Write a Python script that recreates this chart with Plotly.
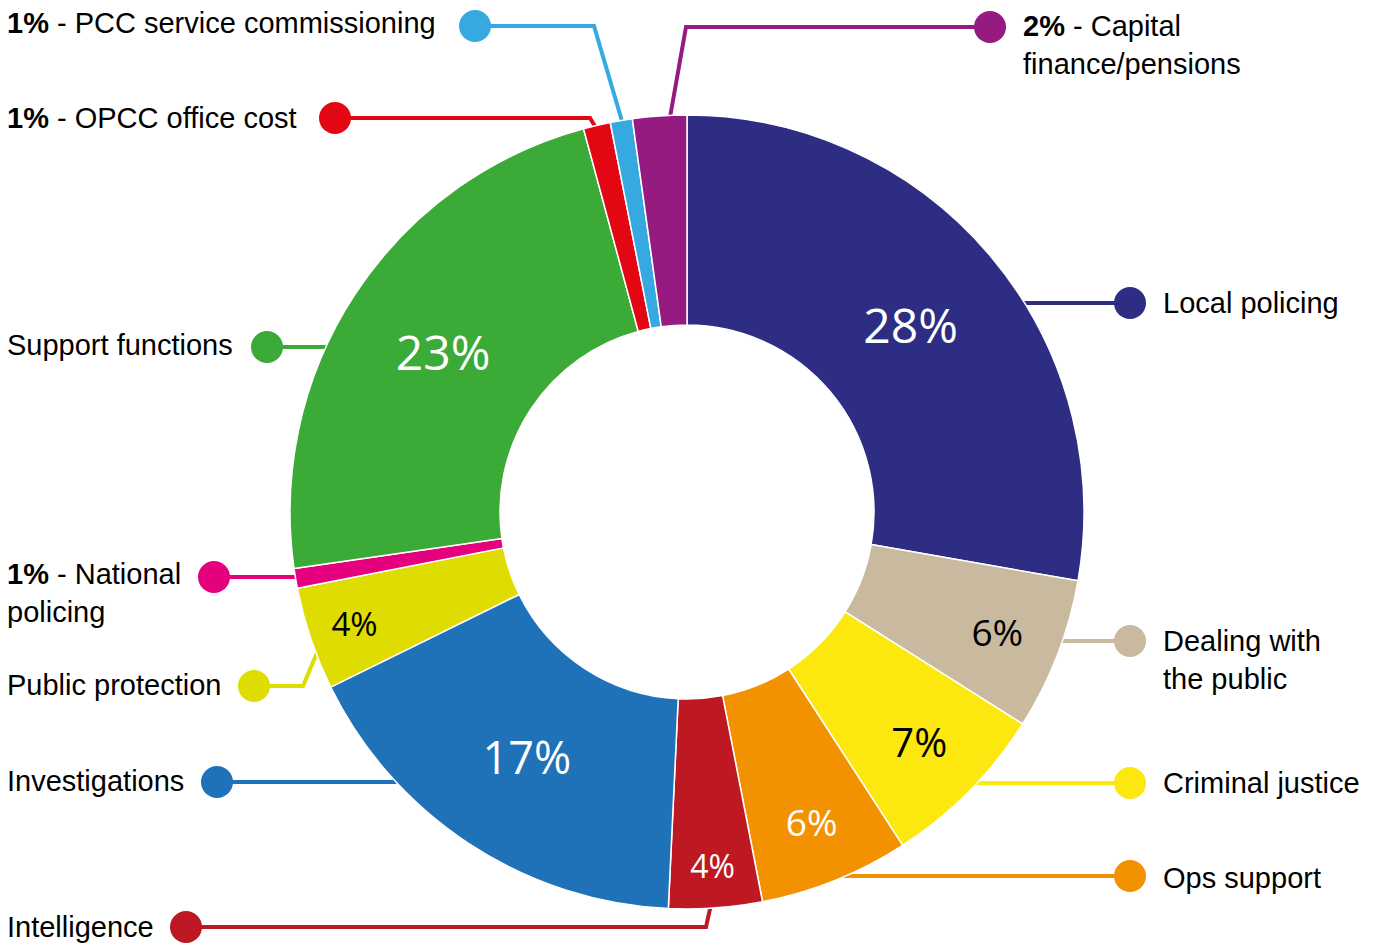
import math
import plotly.graph_objects as go

W, H = 1376, 946

# ---------------- data ----------------
categories = ["Local policing", "Dealing with the public", "Criminal justice", "Ops support",
              "Intelligence", "Investigations", "Public protection", "National policing",
              "Support functions", "OPCC office cost", "PCC service commissioning",
              "Capital finance/pensions"]
values = [27.8, 6.2, 6.9, 6.1, 3.8, 17.0, 4.2, 0.8, 23.1, 1.1, 0.9, 2.2]
slice_text = ["28%", "6%", "7%", "6%", "4%", "17%", "4%", "", "23%", "", "", ""]
callout_text = ["Local policing", "Dealing with<br>the public", "Criminal justice", "Ops support",
                "Intelligence", "Investigations", "Public protection",
                "<b>1%</b> - National<br>policing", "Support functions",
                "<b>1%</b> - OPCC office cost", "<b>1%</b> - PCC service commissioning",
                "<b>2%</b> - Capital<br>finance/pensions"]

# ---------------- styles ----------------
colors = ["#2D2E83", "#C9B99E", "#FCE80F", "#F39200", "#BE1823", "#1F71B8",
          "#DEDC00", "#E5007E", "#3CAA36", "#E30613", "#36A9E1", "#951B81"]
text_colors = ["white", "black", "black", "white", "white", "white",
               "black", "white", "white", "white", "white", "white"]
text_sizes = [48, 37, 40, 37, 32, 45, 33, 10, 48, 10, 10, 10]

CX, CY, R, R_IN = 687, 512, 397, 187

def px(x):
    return x / W

def py(y):
    return 1 - y / H

def edge_x(y, side):
    return CX + side * math.sqrt(R ** 2 - (y - CY) ** 2)

# callout layout: (dot, path points, label anchor x, label y, xanchor)
DOT_R = 16
callouts = [
    ((1130, 303), [(1130, 303), (edge_x(303, 1) - 6, 303)], 1161, 303, "left"),
    ((1130, 641), [(1130, 641), (edge_x(641, 1) - 6, 641)], 1161, 660, "left"),
    ((1130, 783), [(1130, 783), (edge_x(783, 1) - 6, 783)], 1161, 783, "left"),
    ((1130, 876), [(1130, 876), (edge_x(876, 1) - 6, 876)], 1161, 878, "left"),
    ((186, 927), [(186, 927), (706, 927), (712, 900)], 5, 927, "left"),
    ((217, 782), [(217, 782), (edge_x(782, -1) + 6, 782)], 5, 781, "left"),
    ((254, 686), [(254, 686), (303, 686), (319, 648)], 5, 685, "left"),
    ((214, 577), [(214, 577), (edge_x(577, -1) + 6, 577)], 5, 593, "left"),
    ((267, 347), [(267, 347), (edge_x(347, -1) + 6, 347)], 5, 345, "left"),
    ((335, 118), [(335, 118), (590, 118), (599, 133)], 5, 118, "left"),
    ((475, 26), [(475, 26), (594, 26), (624, 128)], 5, 23, "left"),
    ((990, 27), [(990, 27), (686, 27), (669, 123)], 1021, 45, "left"),
]

fig = go.Figure()
fig.add_trace(go.Pie(
    labels=categories,
    values=values,
    text=slice_text,
    textinfo="text",
    textposition="inside",
    insidetextorientation="horizontal",
    textfont=dict(family="Open Sans", size=text_sizes, color=text_colors),
    marker=dict(colors=colors, line=dict(color="white", width=1.5)),
    hole=R_IN / R,
    sort=False,
    direction="clockwise",
    rotation=0,
    showlegend=False,
    hoverinfo="label+value",
    domain=dict(x=[px(CX - R), px(CX + R)], y=[py(CY + R), py(CY - R)]),
))

shapes = []
annotations = []
for i, (dot, path, lx, ly, xa) in enumerate(callouts):
    d = "M " + " L ".join(f"{px(x):.5f},{py(y):.5f}" for x, y in path)
    shapes.append(dict(type="path", path=d, xref="paper", yref="paper",
                       line=dict(color=colors[i], width=4), layer="below"))
    shapes.append(dict(type="circle", xref="paper", yref="paper",
                       x0=px(dot[0] - DOT_R), x1=px(dot[0] + DOT_R),
                       y0=py(dot[1] + DOT_R), y1=py(dot[1] - DOT_R),
                       fillcolor=colors[i], line=dict(width=0), layer="above"))
    annotations.append(dict(text=callout_text[i], x=px(lx), y=py(ly), xref="paper", yref="paper",
                            xanchor=xa, yanchor="middle", align="left", showarrow=False,
                            font=dict(family="Liberation Sans, Arial", size=29, color="black")))

fig.update_layout(
    width=W, height=H,
    margin=dict(l=0, r=0, t=0, b=0),
    paper_bgcolor="white", plot_bgcolor="white",
    shapes=shapes, annotations=annotations,
    uniformtext=dict(mode=False),
)

fig.write_html("out.html", config={"displayModeBar": False},
               post_script="document.body.style.margin='0';document.body.style.overflow='hidden';")
